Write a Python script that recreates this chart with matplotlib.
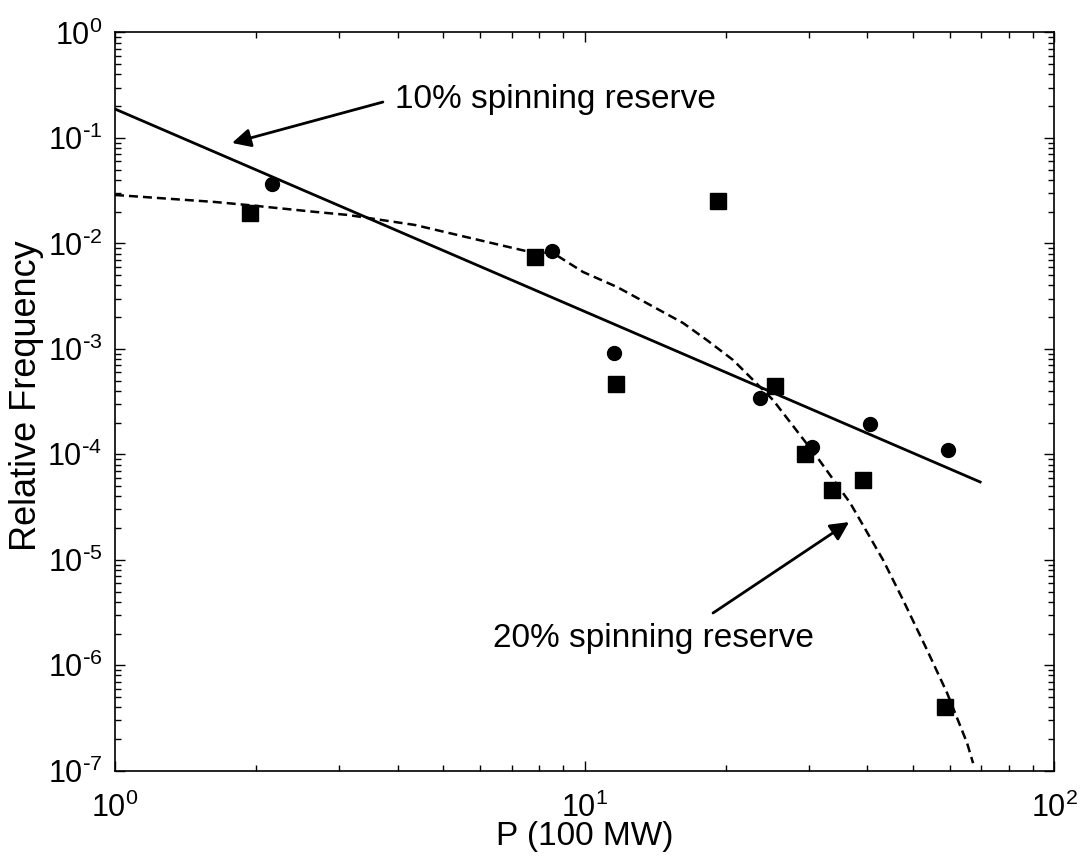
import matplotlib
matplotlib.use("Agg")
import matplotlib.pyplot as plt
from matplotlib.ticker import LogLocator, NullFormatter, FuncFormatter
import numpy as np

plt.rcParams['font.family'] = ['Liberation Sans', 'DejaVu Sans']

# measured points, 10% spinning reserve (circles)
circ_x = [2.16, 8.53, 11.56, 23.6, 30.5, 40.6, 59.4]
circ_y = [0.0366, 0.00848, 9.1e-4, 3.4e-4, 1.17e-4, 1.94e-4, 1.1e-4]

# measured points, 20% spinning reserve (squares)
sq_x = [1.94, 7.85, 11.67, 19.2, 25.5, 29.5, 33.7, 39.2, 58.6]
sq_y = [0.0194, 0.00743, 4.65e-4, 0.0252, 4.45e-4, 1.0e-4, 4.6e-5, 5.7e-5, 4.0e-7]

# power-law fit (solid)
fit10_x = [1.0, 69.6]
fit10_y = [0.188, 5.47e-5]

# fitted curve (dashed)
fit20_x = [1.00, 1.633, 1.920, 2.667, 3.135, 4.355, 6.607, 7.655, 8.568, 9.927,
           11.73, 13.79, 16.21, 18.23, 20.72, 22.86, 25.21, 31.27, 36.79, 43.24,
           47.69, 53.63, 59.18, 65.28, 67.23]
fit20_y = [0.0288, 0.0247, 0.0231, 0.0199, 0.0186, 0.01495, 0.00966, 0.00829, 0.00811, 0.00536,
           0.00386, 0.00261, 0.00176, 0.00121, 7.84e-4, 5.07e-4, 3.27e-4, 9.44e-5, 3.46e-5, 9.96e-6,
           4.16e-6, 1.40e-6, 5.46e-7, 1.83e-7, 1.18e-7]


def pow10_label(v, pos):
    e = int(round(np.log10(v)))
    if e < 0:
        return r'$\mathdefault{10^{\text{-}%d}}$' % (-e)
    return r'$\mathdefault{10^{%d}}$' % e


fig = plt.figure(figsize=(10.88, 8.66), dpi=100)
ax = fig.add_axes([0.1057, 0.110, 0.8631, 0.8525])

ax.plot(fit10_x, fit10_y, '-', color='k', lw=2.0)
ax.plot(fit20_x, fit20_y, color='k', lw=1.8, linestyle=(0, (3.6, 2.0)))
ax.plot(circ_x, circ_y, 'o', color='k', ms=10, mec='k')
ax.plot(sq_x, sq_y, 's', color='k', ms=11.5, mec='k')

ax.set_xscale('log')
ax.set_yscale('log')
ax.set_xlim(1, 100)
ax.set_ylim(1e-7, 1)

ax.xaxis.set_major_locator(LogLocator(base=10, numticks=20))
ax.yaxis.set_major_locator(LogLocator(base=10, numticks=20))
ax.xaxis.set_minor_locator(LogLocator(base=10, subs=range(2, 10), numticks=20))
ax.yaxis.set_minor_locator(LogLocator(base=10, subs=range(2, 10), numticks=20))
ax.xaxis.set_major_formatter(FuncFormatter(pow10_label))
ax.yaxis.set_major_formatter(FuncFormatter(pow10_label))
ax.xaxis.set_minor_formatter(NullFormatter())
ax.yaxis.set_minor_formatter(NullFormatter())

ax.tick_params(which='both', direction='in', top=True, right=True, width=1.0)
ax.tick_params(which='major', length=7, labelsize=22)
ax.tick_params(which='minor', length=4.5)
ax.tick_params(axis='x', which='major', pad=16)
ax.tick_params(axis='y', which='major', pad=9)
for s in ax.spines.values():
    s.set_linewidth(1.2)

ax.set_xlabel('P (100 MW)', fontsize=24, labelpad=-2)
ax.set_ylabel('Relative Frequency', fontsize=26)
ax.yaxis.set_label_coords(-0.076, 0.508)

# annotations
arrow_kw = dict(arrowstyle='-|>', color='k', lw=2.0, mutation_scale=28,
                shrinkA=0, shrinkB=0)
ax.text(3.95, 0.229, '10% spinning reserve', fontsize=24, ha='left', va='center')
ax.annotate('', xy=(1.775, 0.0896), xytext=(3.72, 0.219), arrowprops=arrow_kw)
ax.text(6.38, 1.81e-6, '20% spinning reserve', fontsize=24, ha='left', va='center')
ax.annotate('', xy=(36.6, 2.28e-5), xytext=(18.78, 3.13e-6), arrowprops=arrow_kw)

fig.savefig('out.png', dpi=100)
